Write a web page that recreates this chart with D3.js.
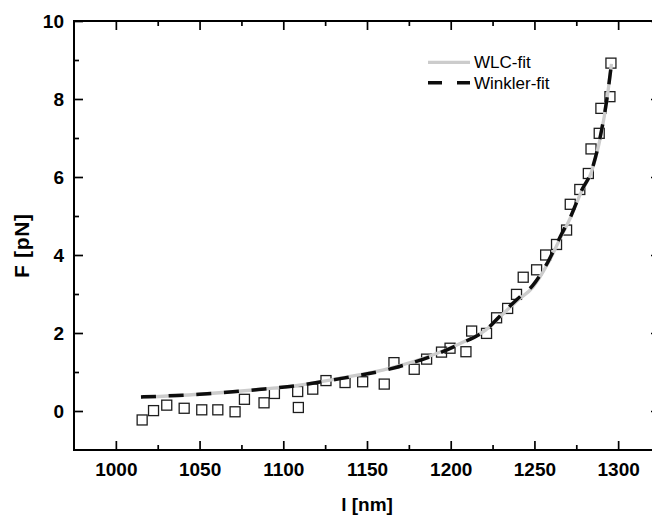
<!DOCTYPE html>
<html>
<head>
<meta charset="utf-8">
<script src="https://cdn.jsdelivr.net/npm/d3@7"></script>
<style>
  html, body { margin: 0; padding: 0; background: #fff; }
  svg { display: block; }
  text { font-family: "Liberation Sans", Arial, sans-serif; }
</style>
</head>
<body>
<svg id="chart" width="652" height="515"></svg>
<script>
// Measured extension l [nm] and force F [pN]
const extension = [1015.7, 1022.5, 1030.4, 1040.8, 1051.3, 1060.9, 1071.2, 1076.8, 1088.5, 1094.7,
  1108.6, 1109.0, 1117.6, 1125.5, 1136.9, 1147.4, 1160.3, 1166.1, 1178.2, 1185.6,
  1194.5, 1199.6, 1209.1, 1212.5, 1221.4, 1227.4, 1234.0, 1239.3, 1243.3, 1251.3,
  1256.7, 1263.2, 1269.2, 1271.4, 1277.1, 1282.2, 1283.8, 1288.7, 1289.7, 1295.1, 1295.7];
const force = [-0.23, 0.01, 0.15, 0.07, 0.03, 0.03, -0.02, 0.30, 0.21, 0.45,
  0.50, 0.09, 0.56, 0.78, 0.73, 0.75, 0.69, 1.24, 1.07, 1.33,
  1.51, 1.61, 1.52, 2.05, 1.99, 2.39, 2.63, 2.99, 3.43, 3.62,
  4.00, 4.27, 4.64, 5.30, 5.68, 6.09, 6.72, 7.12, 7.76, 8.06, 8.92];

// Fitted curves, sampled along l
const wlcL = [1015, 1050, 1085, 1104, 1134, 1164, 1190, 1205, 1221, 1232, 1240, 1249, 1258, 1266, 1272, 1278, 1284, 1290, 1293, 1296];
const wlcF = [0.35, 0.43, 0.55, 0.63, 0.84, 1.10, 1.45, 1.72, 2.08, 2.52, 2.84, 3.17, 3.78, 4.48, 5.00, 5.62, 6.12, 7.15, 7.90, 8.90];
const winklerL = [1015, 1050, 1085, 1104, 1134, 1164, 1190, 1205, 1221, 1232, 1240, 1249, 1258, 1266, 1272, 1278, 1284, 1290, 1293, 1296];
const winklerF = [0.36, 0.43, 0.55, 0.63, 0.83, 1.08, 1.43, 1.71, 2.08, 2.55, 2.88, 3.22, 3.82, 4.52, 5.02, 5.64, 6.15, 7.18, 7.92, 8.90];

// Axis ticks
const xMajor = [1000, 1050, 1100, 1150, 1200, 1250, 1300];
const xMinor = [1025, 1075, 1125, 1175, 1225, 1275];
const yMajor = [0, 2, 4, 6, 8, 10];
const yMinor = [1, 3, 5, 7, 9];

const legendItems = ["WLC-fit", "Winkler-fit"];

const svg = d3.select("#chart");
const x = d3.scaleLinear().domain([975, 1325]).range([74, 660]);
const y = d3.scaleLinear().domain([-1, 10]).range([450, 21]);

const plotLeft = x.range()[0], plotRight = x.range()[1];
const plotTop = y.range()[1], plotBottom = y.range()[0];

// Data squares
const pts = extension.map((l, i) => ({ l, f: force[i] }));
svg.append("g").selectAll("rect").data(pts).join("rect")
  .attr("x", d => x(d.l) - 5).attr("y", d => y(d.f) - 5)
  .attr("width", 10).attr("height", 10)
  .attr("fill", "none").attr("stroke", "#1e1e1e").attr("stroke-width", 1.3);

const line = d3.line().x(d => x(d[0])).y(d => y(d[1])).curve(d3.curveMonotoneX);

svg.append("path")
  .attr("d", line(wlcL.map((l, i) => [l, wlcF[i]])))
  .attr("fill", "none").attr("stroke", "#cccccc").attr("stroke-width", 3.3);

svg.append("path")
  .attr("d", line(winklerL.map((l, i) => [l, winklerF[i]])))
  .attr("fill", "none").attr("stroke", "#0d0d0d").attr("stroke-width", 3.5)
  .attr("stroke-dasharray", "15,12.7");

// Axes: inward ticks on all four sides
const axes = svg.append("g");
const ax = (sel, axis, tx, ty) => sel.append("g").attr("transform", `translate(${tx},${ty})`).call(axis);

function styleAxis(g) {
  g.select(".domain").remove();
  g.selectAll(".tick line").attr("stroke", "#000").attr("stroke-width", 1.7);
  return g;
}

const bottomMajor = styleAxis(ax(axes, d3.axisBottom(x).tickValues(xMajor).tickSize(-9).tickFormat(d3.format("d")), 0, plotBottom));
bottomMajor.selectAll("text").attr("y", 13).attr("dy", "0.71em")
  .attr("font-size", 19).attr("font-weight", "bold").attr("fill", "#000");
styleAxis(ax(axes, d3.axisBottom(x).tickValues(xMinor).tickSize(-5).tickFormat(""), 0, plotBottom));
styleAxis(ax(axes, d3.axisTop(x).tickValues(xMajor).tickSize(-9).tickFormat(""), 0, plotTop));
styleAxis(ax(axes, d3.axisTop(x).tickValues(xMinor).tickSize(-5).tickFormat(""), 0, plotTop));

const leftMajor = styleAxis(ax(axes, d3.axisLeft(y).tickValues(yMajor).tickSize(-9), plotLeft, 0));
leftMajor.selectAll("text").attr("x", -10)
  .attr("font-size", 19).attr("font-weight", "bold").attr("fill", "#000");
styleAxis(ax(axes, d3.axisLeft(y).tickValues(yMinor).tickSize(-5).tickFormat(""), plotLeft, 0));
styleAxis(ax(axes, d3.axisRight(y).tickValues(yMajor).tickSize(-9).tickFormat(""), plotRight, 0));
styleAxis(ax(axes, d3.axisRight(y).tickValues(yMinor).tickSize(-5).tickFormat(""), plotRight, 0));

// Frame
axes.append("rect")
  .attr("x", plotLeft).attr("y", plotTop).attr("width", plotRight - plotLeft).attr("height", plotBottom - plotTop)
  .attr("fill", "none").attr("stroke", "#000").attr("stroke-width", 2);

// Axis titles
svg.append("text").attr("x", 367).attr("y", 511)
  .attr("text-anchor", "middle").attr("font-size", 19).attr("font-weight", "bold").text("l [nm]");
svg.append("text").attr("transform", "translate(29,246) rotate(-90)")
  .attr("text-anchor", "middle").attr("font-size", 21).attr("font-weight", "bold")
  .attr("textLength", 64).attr("lengthAdjust", "spacing").text("F [pN]");

// Legend
const lg = svg.append("g").attr("transform", "translate(428,0)");
lg.append("line").attr("x1", 0).attr("x2", 42).attr("y1", 62.3).attr("y2", 62.3)
  .attr("stroke", "#cccccc").attr("stroke-width", 3.3);
lg.append("line").attr("x1", 0).attr("x2", 42).attr("y1", 82.8).attr("y2", 82.8)
  .attr("stroke", "#0d0d0d").attr("stroke-width", 3.5).attr("stroke-dasharray", "14,15,13");
lg.selectAll("text.lab").data(legendItems).join("text").attr("class", "lab")
  .attr("x", 46).attr("y", (d, i) => 67.8 + i * 21)
  .attr("font-size", 17).attr("fill", "#000").text(d => d);
</script>
</body>
</html>
